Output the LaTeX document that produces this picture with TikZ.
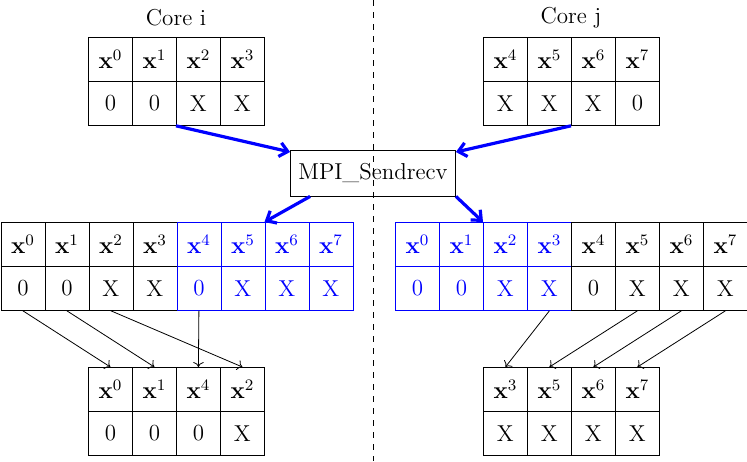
\documentclass[tikz,border=0pt]{standalone}
\usetikzlibrary{arrows.meta}
\begin{document}
\begin{tikzpicture}[x=0.5pt,y=-0.5pt,font=\fontsize{11.5}{13}\selectfont,
  cell/.style={draw,minimum width=22pt,minimum height=22pt,inner sep=0pt,anchor=north west},
  bl/.style={blue},
  big/.style={-{Straight Barb[length=4pt,width=7pt]},blue,line width=1.6pt},
  thin/.style={-{To[length=2.5pt]},line width=0.4pt}]
\useasboundingbox (0,0) rectangle (747,461);
\draw[dashed] (373,0) -- (373,461);
\node at (176,18) {Core i};
\node at (571,18) {Core j};
% top left
\foreach \i/\h/\v in {0/0/0,1/1/0,2/2/X,3/3/X}{
  \node[cell] (tl\i) at (88+44*\i,37) {$\mathbf{x}^{\h}$};
  \node[cell] (tlv\i) at (88+44*\i,81) {\v};}
\foreach \i/\h/\v in {0/4/X,1/5/X,2/6/X,3/7/0}{
  \node[cell] (tr\i) at (483+44*\i,37) {$\mathbf{x}^{\h}$};
  \node[cell] (trv\i) at (483+44*\i,81) {\v};}
\node[draw,minimum width=82.5pt,minimum height=23pt,inner sep=1pt] (mpi) at (373,173) {MPI\_Sendrecv};
% middle left
\foreach \i/\v in {0/0,1/0,2/X,3/X}{
  \node[cell] (ml\i) at (0.5+44*\i,222) {$\mathbf{x}^{\i}$};
  \node[cell] (mlv\i) at (0.5+44*\i,266) {\v};}
\foreach \i/\v in {4/0,5/X,6/X,7/X}{
  \node[cell,bl] (ml\i) at (0.5+44*\i,222) {$\mathbf{x}^{\i}$};
  \node[cell,bl] (mlv\i) at (0.5+44*\i,266) {\v};}
% middle right
\foreach \i/\v in {0/0,1/0,2/X,3/X}{
  \node[cell,bl] (mr\i) at (395+44*\i,222) {$\mathbf{x}^{\i}$};
  \node[cell,bl] (mrv\i) at (395+44*\i,266) {\v};}
\foreach \i/\v in {4/0,5/X,6/X,7/X}{
  \node[cell] (mr\i) at (395+44*\i,222) {$\mathbf{x}^{\i}$};
  \node[cell] (mrv\i) at (395+44*\i,266) {\v};}
% bottom
\foreach \i/\h/\v in {0/0/0,1/1/0,2/4/0,3/2/X}{
  \node[cell] (bl\i) at (88+44*\i,367) {$\mathbf{x}^{\h}$};
  \node[cell] (blv\i) at (88+44*\i,411) {\v};}
\foreach \i/\h/\v in {0/3/X,1/5/X,2/6/X,3/7/X}{
  \node[cell] (br\i) at (483+44*\i,367) {$\mathbf{x}^{\h}$};
  \node[cell] (brv\i) at (483+44*\i,411) {\v};}
% big arrows
\draw[big] (tlv2.south west) -- (mpi.north west |- 0,152);
\draw[big] (trv2.south west) -- (mpi.north east |- 0,152);
\draw[big] (mpi.south west) ++(20,0) -- (ml6.north west);
\draw[big] (mpi.south east) -- (mr2.north west);
% thin arrows
\draw[thin] (mlv0.south) -- (bl0.north);
\draw[thin] (mlv1.south) -- (bl1.north);
\draw[thin] (mlv2.south) -- (bl3.north);
\draw[thin] (mlv4.south) -- (bl2.north);
\draw[thin] (mrv3.south) -- (br0.north);
\draw[thin] (mrv5.south) -- (br1.north);
\draw[thin] (mrv6.south) -- (br2.north);
\draw[thin] (mrv7.south) -- (br3.north);
\end{tikzpicture}
\end{document}
